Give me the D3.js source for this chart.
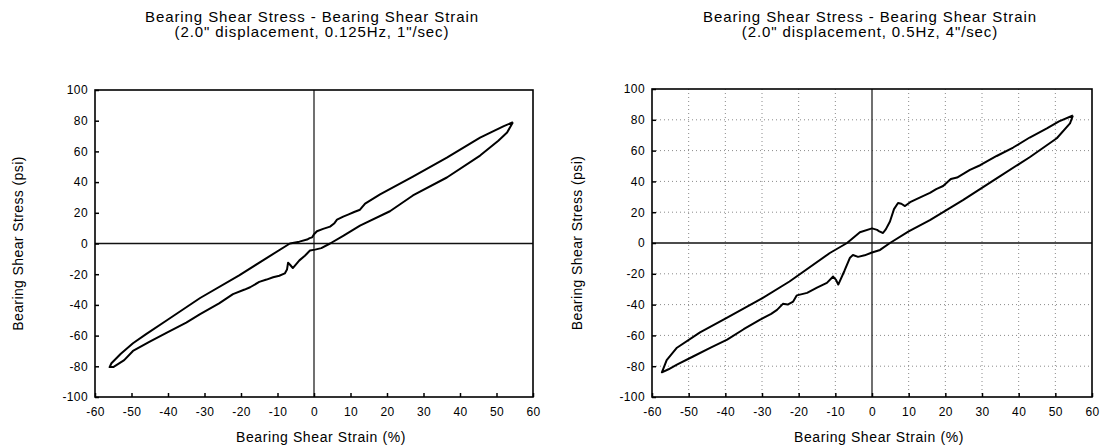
<!DOCTYPE html>
<html>
<head>
<meta charset="utf-8">
<script src="https://cdn.jsdelivr.net/npm/d3@7"></script>
<style>
  body { margin: 0; background: #fff; }
  svg text { font-family: "Liberation Sans", Arial, sans-serif; fill: #000; }
</style>
</head>
<body>
<div id="chart"></div>
<script>
// Tick values shared by both panels
const strainTicks = [-60, -50, -40, -30, -20, -10, 0, 10, 20, 30, 40, 50, 60];
const stressTicks = [-100, -80, -60, -40, -20, 0, 20, 40, 60, 80, 100];

// Left panel: 0.125Hz loop (closed path, strain % / stress psi)
const slowStrain = [54.5, 52, 45.5, 36.4, 27.1, 18.1, 14, 12.6, 11, 9.5, 8, 6.3, 5.5, 4.4, 2.5, 0.8, 0, -0.5, -1.2, -1.9, -4, -6.6, -13, -20.5, -31.2, -40.3, -46, -49.6, -53, -55.5, -56,
  -55, -52, -49.6, -45, -40.3, -35, -31.2, -26, -22.2, -19, -17.5, -15, -13, -11.2, -9.5, -8, -7.4, -7.1, -6.5, -5.8, -4, -2.5, -1.1, 0.3, 2, 4.4, 8, 12.6, 20.8, 27.1, 36.4, 45.5, 50.5, 52.9, 54.5];
const slowStress = [79, 76.5, 69, 56, 43.5, 32, 26, 22, 20.5, 19, 17.5, 15.5, 13, 11, 9.5, 8, 6, 4, 3.5, 2.6, 1.2, 0, -9.5, -20.8, -35.5, -50, -59, -65, -72, -78, -80.5,
  -80.5, -76, -70, -64, -58, -51.5, -46, -39, -33, -30, -28.5, -25, -23.5, -22, -21, -19.5, -17, -12.5, -14, -16, -11, -8, -4.6, -4, -3, 0, 5, 11.7, 21, 31.3, 43, 57.3, 67, 72.3, 79];

// Right panel: 0.5Hz loop
const fastStrain = [54.8, 51, 47.7, 43, 38.5, 34, 29.5, 26.7, 25, 23.2, 21.5, 19.4, 17.5, 15.8, 13, 10.4, 9, 8, 7.1, 6, 4.9, 3.8, 3, 2, 1.4, 0, -3.3, -6.8, -11.5, -22.5, -30, -39.5, -46.9, -53.2, -56, -57.3,
  -55.5, -53.2, -48.8, -44, -39.5, -35, -30.5, -27.5, -25.9, -24.3, -23, -21.5, -20.5, -17.7, -15, -12.3, -10.6, -9.8, -9.2, -7.5, -6, -5.2, -3.8, -2, 0, 2.2, 4.9, 10, 15.8, 24.8, 34, 43, 50.4, 54, 54.8];
const fastStress = [82.8, 79, 74.4, 68.5, 62, 56.5, 50.5, 47.5, 45, 42.5, 41.5, 37, 35, 32.5, 29.5, 26.5, 24, 25.5, 26, 22, 14, 9, 6.5, 7.5, 8.5, 9.5, 7, 0, -6.5, -25, -36, -48.5, -58, -68, -76, -84,
  -82, -79, -73.7, -68, -62.8, -56, -49.8, -46, -43.4, -39.5, -40, -38, -34, -32.4, -29, -25.9, -21.8, -24, -27, -18, -9.5, -7.8, -9, -8, -6.2, -4.5, 0, 7.5, 14.9, 27.8, 42, 55.7, 68, 77.7, 82.8];

const panels = [
  { title: ["Bearing Shear Stress - Bearing Shear Strain", "(2.0\" displacement, 0.125Hz, 1\"/sec)"],
    strain: slowStrain, stress: slowStress, left: 95, right: 533, top: 90, bottom: 397, grid: false, titleX: 312, yTitleX: 18 },
  { title: ["Bearing Shear Stress - Bearing Shear Strain", "(2.0\" displacement, 0.5Hz, 4\"/sec)"],
    strain: fastStrain, stress: fastStress, left: 652, right: 1092, top: 89, bottom: 397, grid: true, titleX: 870, yTitleX: 577 }
];

const svg = d3.select("#chart").append("svg")
  .attr("width", 1100)
  .attr("height", 447);

svg.append("rect").attr("width", 1100).attr("height", 447).attr("fill", "#fff");

const plainNum = d => String(d); // hyphen minus like the original

panels.forEach(function(p) {
  const x = d3.scaleLinear().domain([-60, 60]).range([p.left, p.right]);
  const y = d3.scaleLinear().domain([-100, 100]).range([p.bottom, p.top]);
  const g = svg.append("g");

  // dotted grid (right panel only)
  if (p.grid) {
    g.selectAll(".vg").data(strainTicks.filter(d => d !== 0 && Math.abs(d) !== 60)).enter()
      .append("line")
      .attr("x1", d => x(d)).attr("x2", d => x(d))
      .attr("y1", p.top).attr("y2", p.bottom)
      .attr("stroke", "#8a8a8a").attr("stroke-width", 1).attr("stroke-dasharray", "1,3");
    g.selectAll(".hg").data(stressTicks.filter(d => d !== 0 && Math.abs(d) !== 100)).enter()
      .append("line")
      .attr("y1", d => y(d)).attr("y2", d => y(d))
      .attr("x1", p.left).attr("x2", p.right)
      .attr("stroke", "#8a8a8a").attr("stroke-width", 1).attr("stroke-dasharray", "1,3");
  }

  // zero lines
  g.append("line")
    .attr("x1", x(0)).attr("x2", x(0)).attr("y1", p.top).attr("y2", p.bottom)
    .attr("stroke", "#111").attr("stroke-width", 1.2);
  g.append("line")
    .attr("x1", p.left).attr("x2", p.right).attr("y1", y(0)).attr("y2", y(0))
    .attr("stroke", "#111").attr("stroke-width", 1.5);

  // axes with inward ticks
  const xAxis = d3.axisBottom(x).tickValues(strainTicks).tickFormat(plainNum).tickSizeInner(-4).tickSizeOuter(0).tickPadding(10);
  const yAxis = d3.axisLeft(y).tickValues(stressTicks).tickFormat(plainNum).tickSizeInner(-4).tickSizeOuter(0).tickPadding(7);

  const xg = g.append("g").attr("transform", "translate(0," + p.bottom + ")").call(xAxis);
  const yg = g.append("g").attr("transform", "translate(" + p.left + ",0)").call(yAxis);
  [xg, yg].forEach(function(a) {
    a.select(".domain").remove();
    a.selectAll(".tick line").attr("stroke", "#000").attr("stroke-width", 1.5);
    a.selectAll(".tick text")
      .style("font-family", "'Liberation Sans', Arial, sans-serif")
      .style("font-size", "12px")
      .style("letter-spacing", "0.4px")
      .attr("fill", "#000");
  });

  // frame
  g.append("rect")
    .attr("x", p.left).attr("y", p.top)
    .attr("width", p.right - p.left).attr("height", p.bottom - p.top)
    .attr("fill", "none").attr("stroke", "#000").attr("stroke-width", 1.6);

  // hysteresis loop
  const pts = p.strain.map((s, i) => [s, p.stress[i]]);
  const line = d3.line().x(d => x(d[0])).y(d => y(d[1]));
  g.append("path")
    .attr("d", line(pts))
    .attr("fill", "none")
    .attr("stroke", "#000")
    .attr("stroke-width", 2)
    .attr("stroke-linejoin", "round");

  // titles
  g.selectAll(".title").data(p.title).enter()
    .append("text")
    .attr("x", p.titleX)
    .attr("y", (d, i) => 22 + i * 15)
    .attr("text-anchor", "middle")
    .style("font-size", "15px")
    .style("letter-spacing", "0.9px")
    .text(d => d);

  g.append("text")
    .attr("x", (p.left + p.right) / 2 + 7)
    .attr("y", 442)
    .attr("text-anchor", "middle")
    .style("font-size", "14px")
    .style("letter-spacing", "0.6px")
    .text("Bearing Shear Strain (%)");

  g.append("text")
    .attr("transform", "translate(" + (p.yTitleX + 5) + "," + ((p.top + p.bottom) / 2) + ") rotate(-90)")
    .attr("text-anchor", "middle")
    .style("font-size", "14px")
    .style("letter-spacing", "0.4px")
    .text("Bearing Shear Stress (psi)");
});
</script>
</body>
</html>
